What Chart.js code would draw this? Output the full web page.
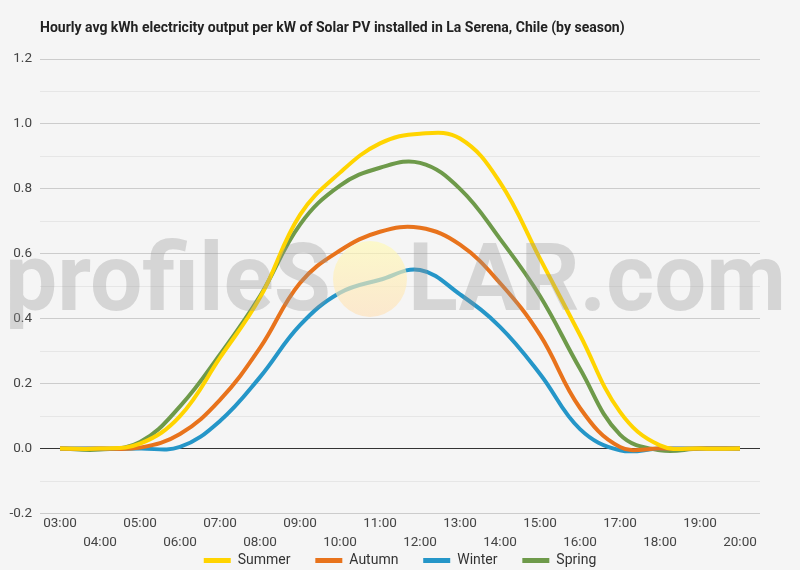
<!DOCTYPE html>
<html>
<head>
<meta charset="utf-8">
<script src="https://cdn.jsdelivr.net/npm/chart.js@4.4.0/dist/chart.umd.min.js"></script>
<style>
  html, body { margin: 0; padding: 0; background: #f5f5f5; }
  #wrap { width: 800px; height: 570px; position: relative; }
</style>
</head>
<body>
<div id="wrap"><canvas id="chart"></canvas></div>
<script>
const hours = ['03:00', '04:00', '05:00', '06:00', '07:00', '08:00', '09:00', '10:00', '11:00',
  '12:00', '13:00', '14:00', '15:00', '16:00', '17:00', '18:00', '19:00', '20:00'];

const summer = [0, 0, 0.015, 0.10, 0.28, 0.465, 0.72, 0.85, 0.94, 0.97, 0.955, 0.82, 0.585, 0.35, 0.113, 0.01, 0, 0];
const autumn = [0, 0, 0.003, 0.045, 0.15, 0.31, 0.51, 0.61, 0.668, 0.68, 0.628, 0.51, 0.35, 0.125, 0.005, 0, 0, 0];
const winter = [0, 0, 0, 0.005, 0.085, 0.22, 0.38, 0.48, 0.52, 0.55, 0.475, 0.375, 0.23, 0.06, -0.005, 0, 0, 0];
const spring = [0, -0.003, 0.02, 0.13, 0.29, 0.47, 0.69, 0.81, 0.865, 0.88, 0.80, 0.646, 0.47, 0.246, 0.043, -0.005, 0, 0];

const seriesNames = ['Summer', 'Autumn', 'Winter', 'Spring'];
const titleText = 'Hourly avg kWh electricity output per kW of Solar PV installed in La Serena, Chile (by season)';

// title + watermark drawn on the canvas
const extras = {
  id: 'extras',
  beforeDraw(chart) {
    const ctx = chart.ctx;
    ctx.save();
    ctx.fillStyle = '#f5f5f5';
    ctx.fillRect(0, 0, chart.width, chart.height);
    ctx.fillStyle = '#222';
    ctx.font = 'bold 14px Roboto';
    ctx.textBaseline = 'middle';
    ctx.fillText(titleText, chart.chartArea.left, 28, 585);
    ctx.restore();
  },
  afterDatasetsDraw(chart) {
    const ctx = chart.ctx;
    ctx.save();
    ctx.fillStyle = 'rgba(150,150,150,0.33)';
    ctx.font = 'bold 95px Roboto';
    ctx.textBaseline = 'alphabetic';
    ctx.fillText('profileS', 5, 310, 326);
    ctx.fillText('LAR.com', 408, 310, 378);
    const g = ctx.createLinearGradient(0, 241, 0, 317);
    g.addColorStop(0, 'rgba(255,250,180,0.65)');
    g.addColorStop(1, 'rgba(255,225,185,0.65)');
    ctx.fillStyle = g;
    ctx.beginPath();
    ctx.ellipse(370, 279, 37, 38, 0, 0, Math.PI * 2);
    ctx.fill();
    ctx.restore();
  }
};

const line = (label, data, color) => ({
  label,
  data,
  borderColor: color,
  backgroundColor: color,
  borderWidth: 4,
  pointRadius: 0,
  tension: 0.4,
  fill: false
});

new Chart(document.getElementById('chart'), {
  type: 'line',
  data: {
    labels: hours,
    datasets: [
      line(seriesNames[0], summer, '#ffd400'),
      line(seriesNames[1], autumn, '#e8731c'),
      line(seriesNames[2], winter, '#2596c8'),
      line(seriesNames[3], spring, '#6e9a4a')
    ]
  },
  options: {
    responsive: true,
    maintainAspectRatio: false,
    animation: false,
    layout: {
      padding: { top: 59, right: 0, left: 0, bottom: -7.5 }
    },
    plugins: {
      legend: {
        position: 'bottom',
        labels: {
          boxWidth: 27,
          boxHeight: 5,
          padding: 0.5,
          color: '#333',
          font: { family: 'Roboto', size: 14 },
          // gap between items comes from trailing spaces (keeps the legend short)
          generateLabels: (chart) => Chart.defaults.plugins.legend.labels.generateLabels(chart)
            .map((l, i, all) => ({ ...l, lineWidth: 0, text: i < all.length - 1 ? l.text + '       ' : l.text }))
        }
      },
      tooltip: { enabled: false }
    },
    scales: {
      x: {
        offset: true,
        grid: { display: false, drawTicks: false },
        border: { display: false },
        ticks: {
          autoSkip: false,
          maxRotation: 0,
          minRotation: 0,
          padding: 1.25,
          color: '#444',
          font: { family: 'Roboto', size: 13.5, lineHeight: 1.37 },
          callback: (v, i) => (i % 2 === 0 ? hours[i] : ['', hours[i]])
        }
      },
      y: {
        min: -0.2,
        max: 1.2,
        afterFit: (scale) => { scale.width = 40; },
        border: { display: false },
        grid: {
          drawTicks: false,
          color: (c) => {
            const k = Math.round(c.tick.value * 10);
            if (k === 0) return '#333';
            return k % 2 === 0 ? '#cccccc' : '#e6e6e6';
          }
        },
        ticks: {
          stepSize: 0.1,
          padding: 8,
          color: '#444',
          font: { family: 'Roboto', size: 13.5 },
          callback: (v) => {
            const k = Math.round(v * 10);
            return k % 2 === 0 ? (k / 10).toFixed(1) : '';
          }
        }
      },
      // empty right-hand gutter so the plot ends at 760 while the legend stays centred on the page
      gutter: {
        type: 'linear',
        position: 'right',
        grid: { display: false, drawTicks: false },
        border: { display: false },
        ticks: { display: false },
        afterFit: (scale) => { scale.width = 40; }
      }
    }
  },
  plugins: [extras]
});
</script>
</body>
</html>
